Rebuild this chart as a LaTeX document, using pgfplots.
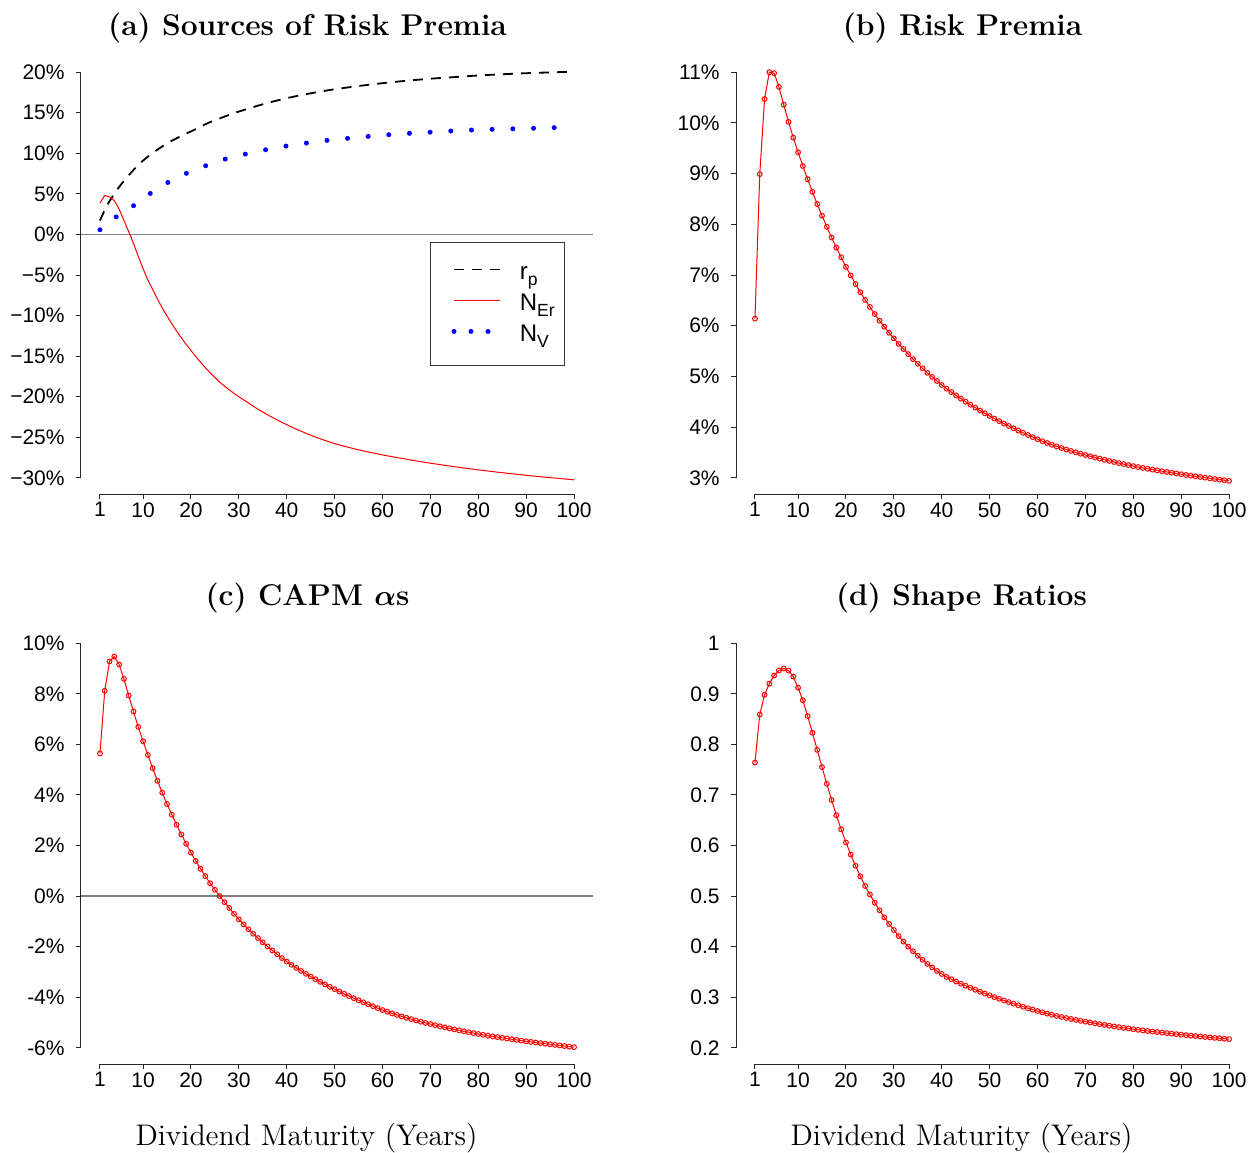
\documentclass[border=0pt]{standalone}
\usepackage{pgfplots}
\pgfplotsset{compat=1.18}
\usepackage{pgfplotstable}
\usepackage{bm}
\usepackage{fontspec}
\newfontfamily\arial{Liberation Sans}
\newcommand\lsub[1]{\raisebox{-2.6pt}{\fontsize{8.8}{10}\selectfont #1}}

\pgfplotstableread{
m b c d
1 6.14 5.64 0.764
2 8.99 8.12 0.859
3 10.47 9.28 0.898
4 11.00 9.47 0.920
5 10.98 9.16 0.936
6 10.71 8.59 0.946
7 10.36 7.93 0.950
8 10.02 7.30 0.946
9 9.71 6.69 0.934
10 9.42 6.12 0.912
11 9.15 5.58 0.887
12 8.89 5.06 0.856
13 8.64 4.56 0.823
14 8.40 4.09 0.789
15 8.17 3.64 0.755
16 7.95 3.22 0.722
17 7.74 2.82 0.690
18 7.54 2.44 0.660
19 7.35 2.07 0.632
20 7.16 1.72 0.606
21 6.99 1.39 0.582
22 6.82 1.08 0.560
23 6.66 0.79 0.539
24 6.51 0.51 0.520
25 6.37 0.25 0.503
26 6.23 0.00 0.487
27 6.10 -0.24 0.472
28 5.98 -0.47 0.458
29 5.86 -0.70 0.445
30 5.75 -0.92 0.433
31 5.64 -1.12 0.421
32 5.54 -1.31 0.410
33 5.44 -1.49 0.400
34 5.34 -1.66 0.391
35 5.25 -1.83 0.382
36 5.16 -1.99 0.374
37 5.07 -2.15 0.366
38 4.99 -2.30 0.359
39 4.91 -2.45 0.352
40 4.83 -2.59 0.346
41 4.759 -2.717 0.3402
42 4.691 -2.839 0.3356
43 4.625 -2.957 0.3311
44 4.561 -3.072 0.3268
45 4.500 -3.181 0.3227
46 4.441 -3.286 0.3187
47 4.383 -3.390 0.3148
48 4.327 -3.490 0.3110
49 4.272 -3.589 0.3073
50 4.220 -3.682 0.3038
51 4.168 -3.775 0.3002
52 4.118 -3.864 0.2969
53 4.069 -3.952 0.2936
54 4.022 -4.036 0.2904
55 3.976 -4.119 0.2873
56 3.931 -4.199 0.2842
57 3.887 -4.278 0.2813
58 3.844 -4.355 0.2783
59 3.802 -4.430 0.2755
60 3.760 -4.505 0.2727
61 3.722 -4.573 0.2701
62 3.686 -4.638 0.2677
63 3.652 -4.699 0.2654
64 3.619 -4.758 0.2631
65 3.588 -4.813 0.2610
66 3.558 -4.867 0.2590
67 3.529 -4.919 0.2571
68 3.501 -4.969 0.2552
69 3.475 -5.015 0.2534
70 3.450 -5.060 0.2517
71 3.425 -5.105 0.2500
72 3.401 -5.148 0.2484
73 3.378 -5.189 0.2468
74 3.355 -5.230 0.2453
75 3.333 -5.270 0.2438
76 3.311 -5.309 0.2423
77 3.290 -5.347 0.2409
78 3.270 -5.382 0.2395
79 3.250 -5.418 0.2382
80 3.230 -5.454 0.2368
81 3.212 -5.486 0.2356
82 3.195 -5.517 0.2345
83 3.178 -5.547 0.2333
84 3.162 -5.576 0.2322
85 3.146 -5.604 0.2312
86 3.130 -5.633 0.2301
87 3.115 -5.660 0.2291
88 3.100 -5.687 0.2281
89 3.085 -5.714 0.2270
90 3.070 -5.740 0.2260
91 3.056 -5.765 0.2251
92 3.042 -5.791 0.2241
93 3.029 -5.814 0.2233
94 3.016 -5.837 0.2224
95 3.003 -5.860 0.2215
96 2.990 -5.884 0.2206
97 2.977 -5.907 0.2197
98 2.964 -5.930 0.2189
99 2.952 -5.952 0.2180
100 2.940 -5.973 0.2172
}\curves

\pgfplotsset{
 rstyle/.style={
  scale only axis, width=256pt,
  xmin=-2.96, xmax=103.96,
  axis x line*=bottom, axis y line*=left,
  axis line style={draw=none},
  tick align=outside, major tick length=2.5pt,
  tick style={black!85, line width=0.5pt},
  xtick={1,10,20,30,40,50,60,70,80,90,100},
  xticklabels={1,10,20,30,40,50,60,70,80,90,100},
  ticklabel style={font=\arial\fontsize{10.5}{12}\selectfont},
  xticklabel style={anchor=north, inner sep=0pt, yshift=-1.5pt},
  yticklabel style={anchor=east, inner sep=0pt, xshift=-5.5pt},
  clip=false,
 },
 mline/.style={red, line width=0.5pt, mark=o, mark size=1.2pt, mark options={solid, line width=0.5pt}},
 zline/.style={gray, line width=0.6pt, forget plot},
}

\begin{document}
\begin{tikzpicture}
\useasboundingbox (0,0) rectangle (625.5pt,-576pt);

% (a)
\begin{axis}[rstyle, at={(40.5pt,-247pt)}, anchor=south west, height=219pt,
  ymin=-32, ymax=22,
  ytick={-30,-25,-20,-15,-10,-5,0,5,10,15,20},
  yticklabels={−30\%,−25\%,−20\%,−15\%,−10\%,−5\%,0\%,5\%,10\%,15\%,20\%},
  legend style={at={(axis cs:69.92,-0.985)}, anchor=north west, draw=black!80, line width=0.5pt, fill=white,
    font=\arial\fontsize{12}{14}\selectfont, inner xsep=5pt, inner ysep=9pt, row sep=3pt, column sep=9.5pt,
    nodes={inner sep=0pt, text height=9.5pt, text depth=3pt}, cells={anchor=west}},
  legend image code/.code={\path (0pt,0pt); \draw[#1] (5.5pt,2pt) -- (28.5pt,2pt);},
]
\draw[black!85, line width=0.5pt] (axis cs:1,-32) -- (axis cs:100,-32);
\draw[black!85, line width=0.5pt] (axis cs:-2.96,-30) -- (axis cs:-2.96,20);
\addplot[zline] coordinates {(-2.96,0) (103.96,0)};
\addplot[black, line width=0.9pt, dash pattern=on 5pt off 4pt, smooth, tension=0.5] coordinates {
(1,1.72) (2,3.0) (3,4.1) (4,5.0) (5,5.85) (6,6.6) (7,7.3) (8,7.95) (9,8.55) (10,9.1)
(11,9.6) (12,10.05) (13,10.45) (14,10.85) (15,11.2) (16,11.55) (17,11.85) (18,12.15) (19,12.45) (20,12.7)
(22,13.3) (24,13.85) (26,14.3) (28,14.75) (30,15.15) (35,16.05) (40,16.8) (45,17.4) (50,17.9)
(55,18.3) (60,18.65) (65,18.95) (70,19.2) (75,19.4) (80,19.6) (85,19.75) (90,19.88) (95,19.98) (100,20.07)};
\addlegendentry{r\lsub{p}}
\addplot[red, line width=0.5pt, forget plot] coordinates {(1,3.86) (2,4.82) (3,4.62)};
\addplot[red, line width=0.5pt, smooth, tension=0.5] coordinates {
(3,4.62) (4,4.15) (5,3.1) (6,1.75) (7,0.35) (8,-1.1) (9,-2.7) (10,-4.2)
(11,-5.6) (12,-6.8) (13,-7.95) (14,-9.05) (15,-10.05) (16,-11.0) (17,-11.9) (18,-12.75) (19,-13.55) (20,-14.3)
(22,-15.75) (24,-17.05) (26,-18.2) (28,-19.15) (30,-20.0) (35,-21.9) (40,-23.45) (45,-24.75) (50,-25.78)
(55,-26.55) (60,-27.18) (65,-27.71) (70,-28.2) (75,-28.63) (80,-29.02) (85,-29.37) (90,-29.69) (95,-29.98) (100,-30.25)};
\addlegendentry{N\lsub{Er}}
\addplot[blue, line width=2.5pt, line cap=round, dash pattern=on 0pt off 10.35pt,
  legend image code/.code={\path (0pt,0pt); \draw[blue, line width=2.5pt, line cap=round, dash pattern=on 0pt off 8.5pt] (5.5pt,2pt) -- (23.5pt,2pt);}] coordinates {
(1,0.58) (4.41,2.18) (8.03,3.55) (11.58,5.09) (15.27,6.44) (19.1,7.55) (23.2,8.50) (27.3,9.32)
(31.6,9.94) (35.8,10.47) (40.1,10.92) (44.4,11.29) (48.7,11.62) (53.05,11.86) (57.4,12.11) (61.7,12.32)
(66.0,12.48) (70.4,12.62) (74.7,12.77) (79.1,12.89) (83.4,12.97) (87.7,13.03) (92.1,13.1) (96.4,13.18) (100,13.24)};
\addlegendentry{N\lsub{V}}
\end{axis}

% (b)
\begin{axis}[rstyle, at={(368pt,-247pt)}, anchor=south west, height=219pt,
  ymin=2.68, ymax=11.32,
  ytick={3,4,5,6,7,8,9,10,11},
  yticklabels={3\%,4\%,5\%,6\%,7\%,8\%,9\%,10\%,11\%},
]
\draw[black!85, line width=0.5pt] (axis cs:1,2.68) -- (axis cs:100,2.68);
\draw[black!85, line width=0.5pt] (axis cs:-2.96,3) -- (axis cs:-2.96,11);
\addplot[mline] table[x=m, y=b] {\curves};
\end{axis}

% (c)
\begin{axis}[rstyle, at={(40.5pt,-532pt)}, anchor=south west, height=218.5pt,
  ymin=-6.64, ymax=10.64,
  ytick={-6,-4,-2,0,2,4,6,8,10},
  yticklabels={-6\%,-4\%,-2\%,0\%,2\%,4\%,6\%,8\%,10\%},
]
\draw[black!85, line width=0.5pt] (axis cs:1,-6.64) -- (axis cs:100,-6.64);
\draw[black!85, line width=0.5pt] (axis cs:-2.96,-6) -- (axis cs:-2.96,10);
\addplot[zline] coordinates {(-2.96,0) (103.96,0)};
\addplot[mline] table[x=m, y=c] {\curves};
\end{axis}

% (d)
\begin{axis}[rstyle, at={(368pt,-532pt)}, anchor=south west, height=218.5pt,
  ymin=0.168, ymax=1.032,
  ytick={0.2,0.3,0.4,0.5,0.6,0.7,0.8,0.9,1},
  yticklabels={0.2,0.3,0.4,0.5,0.6,0.7,0.8,0.9,1},
]
\draw[black!85, line width=0.5pt] (axis cs:1,0.168) -- (axis cs:100,0.168);
\draw[black!85, line width=0.5pt] (axis cs:-2.96,0.2) -- (axis cs:-2.96,1);
\addplot[mline] table[x=m, y=d] {\curves};
\end{axis}

% titles
\node[anchor=base, font=\fontsize{15}{18}\selectfont\bfseries] at (153.75pt,-17.5pt) {(a) Sources of Risk Premia};
\node[anchor=base, font=\fontsize{15}{18}\selectfont\bfseries] at (481.25pt,-17.5pt) {(b) Risk Premia};
\node[anchor=base, font=\fontsize{15}{18}\selectfont\bfseries] at (153.75pt,-302.5pt) {{(c) CAPM $\bm{\alpha}$s}};
\node[anchor=base, font=\fontsize{15}{18}\selectfont\bfseries] at (480.75pt,-302.5pt) {(d) Shape Ratios};
\node[anchor=base, font=\fontsize{14.9}{17}\selectfont] at (153.25pt,-572.5pt) {Dividend Maturity (Years)};
\node[anchor=base, font=\fontsize{14.9}{17}\selectfont] at (480.75pt,-572.5pt) {Dividend Maturity (Years)};
\end{tikzpicture}
\end{document}
